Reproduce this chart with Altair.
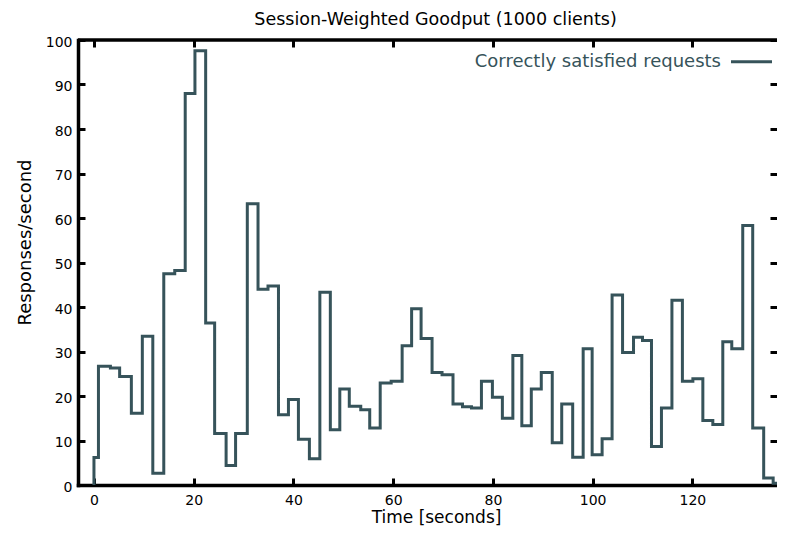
import altair as alt
import pandas as pd

# step start times (seconds) and the value held from that time on
time_s = [0, 0, 0.9, 3.3, 5.15, 7.5, 9.7, 11.8, 14.0, 16.2, 18.3, 20.25, 22.4, 24.2,
          26.5, 28.4, 30.75, 32.9, 34.9, 37.0, 39.0, 41.0, 43.2, 45.3, 47.4, 49.3,
          51.2, 53.5, 55.3, 57.4, 59.6, 61.8, 63.7, 65.6, 67.8, 69.8, 72.0, 73.9,
          75.7, 77.7, 79.9, 81.9, 84.0, 85.8, 87.7, 89.7, 91.9, 93.8, 96.0, 98.1,
          99.9, 101.9, 103.9, 106.0, 108.2, 110.0, 111.8, 113.8, 115.9, 118.0,
          120.1, 122.1, 124.1, 126.1, 127.9, 130.1, 132.1, 134.3, 136.2, 138.2, 140]
responses = [0, 6.2, 26.7, 26.3, 24.4, 16.1, 33.4, 2.65, 47.5, 48.2, 88.0, 97.6, 36.4,
             11.6, 4.4, 11.6, 63.2, 44.0, 44.7, 15.8, 19.2, 10.3, 5.9, 43.3, 12.4,
             21.6, 17.7, 16.9, 12.8, 22.9, 23.3, 31.3, 39.6, 32.9, 25.3, 24.8, 18.2,
             17.6, 17.3, 23.3, 19.7, 15.0, 29.1, 13.3, 21.6, 25.3, 9.5, 18.2, 6.25,
             30.6, 6.8, 10.4, 42.7, 29.8, 33.2, 32.5, 8.65, 17.3, 41.5, 23.3, 23.9,
             14.5, 13.6, 32.2, 30.6, 58.3, 12.8, 1.6, 0.4, 1.6, 1.6]
series_name = ["Correctly satisfied requests"]
x_ticks = [0, 20, 40, 60, 80, 100, 120]
y_ticks = [0, 10, 20, 30, 40, 50, 60, 70, 80, 90, 100]

W, H = 699, 445
LINE = "#36535a"
FONT = "DejaVu Sans"

df = pd.DataFrame({"t": time_s, "v": responses, "i": list(range(len(time_s)))})

line = alt.Chart(df).mark_line(
    interpolate="step-after", color=LINE, strokeWidth=3, clip=True,
    strokeJoin="miter", strokeCap="butt"
).encode(
    x=alt.X("t:Q",
            scale=alt.Scale(domain=[-3.2, 136.97], nice=False, zero=False),
            axis=alt.Axis(values=x_ticks, title="Time [seconds]", format="d",
                          domain=True, domainColor="black", domainWidth=3.5, domainCap="square",
                          ticks=False, tickSize=0,
                          grid=True, gridColor="black", gridWidth=3, gridOpacity=1,
                          gridDash=[7, H - 14, 7],
                          labelFont=FONT, labelFontSize=14, labelColor="black",
                          labelPadding=8, labelBaseline="top",
                          titleFont=FONT, titleFontSize=17, titleFontWeight="normal",
                          titleColor="black", titleBaseline="alphabetic",
                          titleAlign="center", titleX=358, titleY=37)),
    y=alt.Y("v:Q",
            scale=alt.Scale(domain=[0, 100], nice=False, zero=True),
            axis=alt.Axis(values=y_ticks, title="Responses/second", format="d",
                          domain=True, domainColor="black", domainWidth=3.5, domainCap="square",
                          ticks=False, tickSize=0,
                          grid=True, gridColor="black", gridWidth=3, gridOpacity=1,
                          gridDash=[7, W - 14, 7],
                          labelFont=FONT, labelFontSize=14, labelColor="black",
                          labelPadding=6, labelBaseline="middle", labelOffset=2,
                          titleFont=FONT, titleFontSize=18, titleFontWeight="normal",
                          titleColor="black", titleBaseline="alphabetic",
                          titleAlign="center", titleAngle=270,
                          titleX=-47.5, titleY=202)),
    order=alt.Order("i:Q"),
)

border_df = pd.DataFrame({"k": [0]})
top_border = alt.Chart(border_df).mark_rule(color="black", strokeWidth=3.5).encode(
    x=alt.value(0), x2=alt.value(W), y=alt.value(0)
)

legend_df = pd.DataFrame({"name": series_name})
legend_text = alt.Chart(legend_df).mark_text(
    align="right", baseline="alphabetic", font=FONT, fontSize=18, color=LINE
).encode(text="name:N", x=alt.value(643), y=alt.value(27))
legend_line = alt.Chart(legend_df).mark_rule(color=LINE, strokeWidth=3).encode(
    x=alt.value(653), x2=alt.value(694), y=alt.value(21.7)
)

chart = alt.layer(line, top_border, legend_text, legend_line).properties(
    width=W, height=H,
    title=alt.TitleParams("Session-Weighted Goodput (1000 clients)", font=FONT,
                          fontSize=17.5, fontWeight="normal", color="black",
                          anchor="middle", baseline="alphabetic", offset=15, dx=8, dy=22),
    autosize=alt.AutoSizeParams(type="none"),
    padding={"left": 70, "top": 32, "right": 0, "bottom": 42},
).configure_view(stroke=None)

chart.save("out.html", embed_options={"renderer": "svg", "actions": False})
